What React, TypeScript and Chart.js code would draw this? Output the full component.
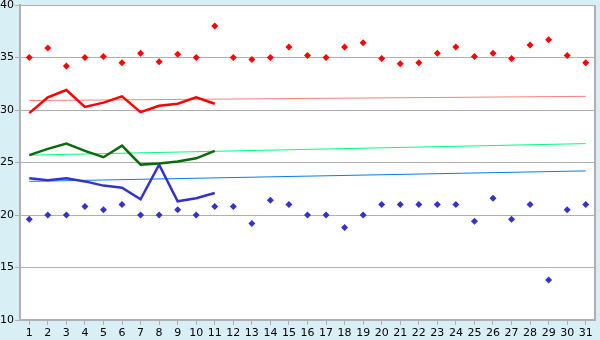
import React, { useEffect, useRef } from "react";
import { Chart, registerables } from "chart.js";

Chart.register(...registerables);

const days: string[] = [
  "1", "2", "3", "4", "5", "6", "7", "8", "9", "10", "11", "12", "13", "14", "15", "16",
  "17", "18", "19", "20", "21", "22", "23", "24", "25", "26", "27", "28", "29", "30", "31",
];

const maxPoints: number[] = [
  35.0, 35.9, 34.2, 35.0, 35.1, 34.5, 35.4, 34.6, 35.3, 35.0, 38.0, 35.0, 34.8, 35.0, 36.0, 35.2,
  35.0, 36.0, 36.4, 34.9, 34.4, 34.5, 35.4, 36.0, 35.1, 35.4, 34.9, 36.2, 36.7, 35.2, 34.5,
];

const minPoints: number[] = [
  19.6, 20.0, 20.0, 20.8, 20.5, 21.0, 20.0, 20.0, 20.5, 20.0, 20.8, 20.8, 19.2, 21.4, 21.0, 20.0,
  20.0, 18.8, 20.0, 21.0, 21.0, 21.0, 21.0, 21.0, 19.4, 21.6, 19.6, 21.0, 13.8, 20.5, 21.0,
];

const redLine: number[] = [29.7, 31.2, 31.9, 30.3, 30.7, 31.3, 29.8, 30.4, 30.6, 31.2, 30.6];
const greenLine: number[] = [25.7, 26.3, 26.8, 26.1, 25.5, 26.6, 24.8, 24.9, 25.1, 25.4, 26.1];
const blueLine: number[] = [23.5, 23.3, 23.5, 23.2, 22.8, 22.6, 21.5, 24.8, 21.3, 21.6, 22.1];

const redTrend: [number, number] = [30.9, 31.3];
const greenTrend: [number, number] = [25.7, 26.8];
const blueTrend: [number, number] = [23.2, 24.2];

const yTicks: number[] = [10, 15, 20, 25, 30, 35, 40];

function trendData(ends: [number, number]): (number | null)[] {
  return days.map((_, i) => (i === 0 ? ends[0] : i === days.length - 1 ? ends[1] : null));
}

const FONT = { family: "'DejaVu Sans', sans-serif", size: 11 };
const GRID = "#b0b0b0";

const frame = {
  id: "frame",
  beforeDraw(chart: any) {
    const { ctx, chartArea: a } = chart;
    ctx.save();
    ctx.fillStyle = "#ffffff";
    ctx.fillRect(a.left, a.top, a.right - a.left, a.bottom - a.top);
    ctx.restore();
  },
  afterDraw(chart: any) {
    const { ctx, chartArea: a } = chart;
    ctx.save();
    ctx.strokeStyle = GRID;
    ctx.lineWidth = 2;
    ctx.beginPath();
    ctx.moveTo(a.right, a.top);
    ctx.lineTo(a.right, a.bottom);
    ctx.stroke();
    ctx.restore();
  },
};

export default function App() {
  const ref = useRef<HTMLCanvasElement | null>(null);

  useEffect(() => {
    if (!ref.current) return;
    const chart = new Chart(ref.current, {
      type: "line",
      data: {
        labels: days,
        datasets: [
          {
            label: "max",
            data: maxPoints,
            showLine: false,
            pointStyle: "rectRot",
            pointRadius: 3.5,
            backgroundColor: "#ff0000",
            borderColor: "#ff0000",
            borderWidth: 0,
          },
          {
            label: "min",
            data: minPoints,
            showLine: false,
            pointStyle: "rectRot",
            pointRadius: 3.5,
            backgroundColor: "#3333cc",
            borderColor: "#3333cc",
            borderWidth: 0,
          },
          {
            label: "red",
            data: redLine,
            borderColor: "#ff0000",
            borderWidth: 2.5,
            pointRadius: 0,
            tension: 0,
          },
          {
            label: "green",
            data: greenLine,
            borderColor: "#0b6b0b",
            borderWidth: 2.5,
            pointRadius: 0,
            tension: 0,
          },
          {
            label: "blue",
            data: blueLine,
            borderColor: "#3333cc",
            borderWidth: 2.5,
            pointRadius: 0,
            tension: 0,
          },
          {
            label: "redTrend",
            data: trendData(redTrend),
            borderColor: "#ff8080",
            borderWidth: 1,
            pointRadius: 0,
            spanGaps: true,
          },
          {
            label: "greenTrend",
            data: trendData(greenTrend),
            borderColor: "#00ff80",
            borderWidth: 1,
            pointRadius: 0,
            spanGaps: true,
          },
          {
            label: "blueTrend",
            data: trendData(blueTrend),
            borderColor: "#0a7cf0",
            borderWidth: 1,
            pointRadius: 0,
            spanGaps: true,
          },
        ],
      },
      options: {
        responsive: false,
        animation: false,
        devicePixelRatio: 1,
        layout: { padding: { top: 5, right: 5, left: 0, bottom: 0 } },
        plugins: { legend: { display: false }, tooltip: { enabled: false } },
        scales: {
          x: {
            type: "category",
            offset: true,
            grid: {
              offset: false,
              drawOnChartArea: false,
              drawTicks: true,
              tickLength: 5,
              color: GRID,
            },
            border: { color: GRID, width: 2 },
            ticks: {
              color: "#000",
              font: FONT,
              padding: 2,
              maxRotation: 0,
              autoSkip: false,
            },
            afterFit(scale: any) {
              scale.height = 20;
              scale.paddingLeft = 0;
              scale.paddingRight = 0;
            },
          },
          y: {
            min: 10,
            max: 40,
            afterBuildTicks(scale: any) {
              scale.ticks = yTicks.map((v) => ({ value: v }));
            },
            grid: { color: GRID, tickLength: 5 },
            border: { color: GRID, width: 2 },
            ticks: { color: "#000", font: FONT, padding: 1 },
            afterFit(scale: any) {
              scale.width = 20;
              scale.paddingTop = 0;
              scale.paddingBottom = 0;
            },
          },
        },
      },
      plugins: [frame],
    });
    return () => chart.destroy();
  }, []);

  return (
    <div style={{ position: "absolute", left: 0, top: 0, width: 600, height: 340, background: "#d9eff6" }}>
      <canvas ref={ref} width={600} height={340} style={{ display: "block" }} />
    </div>
  );
}
